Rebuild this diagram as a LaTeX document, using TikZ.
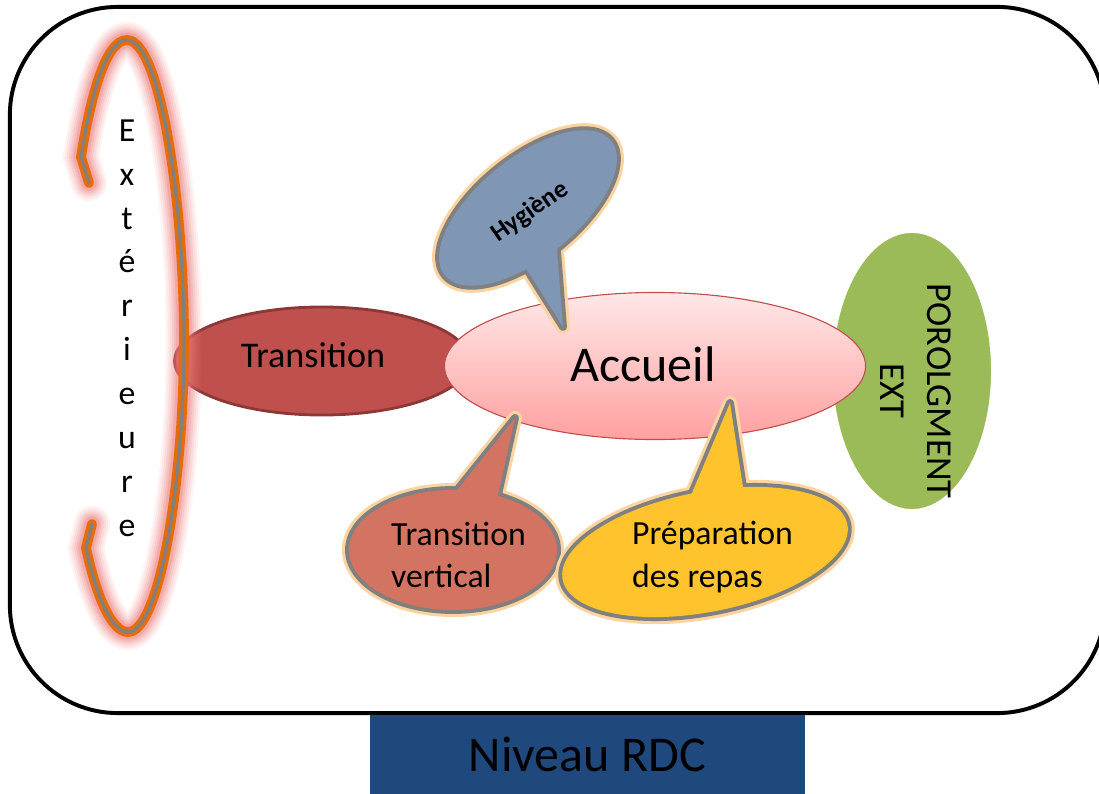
\documentclass[tikz,border=0pt]{standalone}
\usepackage{fontspec}
\setmainfont{Carlito}
\usepackage{xcolor}
\usetikzlibrary{shapes.geometric}
\definecolor{transred}{RGB}{192,80,77}
\definecolor{transdark}{RGB}{140,56,54}
\definecolor{accpinktop}{RGB}{255,232,232}
\definecolor{accpinkbot}{RGB}{255,160,160}
\definecolor{extgreen}{RGB}{155,187,89}
\definecolor{hygblue}{RGB}{127,151,181}
\definecolor{vertred}{RGB}{211,115,98}
\definecolor{repasyellow}{RGB}{255,195,46}
\definecolor{rdcblue}{RGB}{31,73,125}
\definecolor{arroworange}{RGB}{228,108,10}
\definecolor{arrowgray}{RGB}{128,128,128}
\definecolor{glowpink}{RGB}{236,120,120}
\definecolor{haloorange}{RGB}{252,212,160}
\definecolor{bubblegray}{RGB}{128,128,128}

\begin{document}
\begin{tikzpicture}[
    x=0.025cm, y=-0.025cm,
    every node/.style={inner sep=0pt, outer sep=0pt},
    bigtext/.style={font=\fontsize{35.6}{42}\selectfont},
    midtext/.style={font=\fontsize{25.7}{31}\selectfont},
    bubbletext/.style={font=\fontsize{24}{30}\selectfont, align=left},
    bubbleglow/.style={draw=haloorange, line width=10pt, line join=round},
    bubbleedge/.style={draw=bubblegray, line width=5.6pt, line join=round},
    roomellipse/.style={ellipse, draw=#1, minimum width=7.375cm, minimum height=2.7cm}
]
\useasboundingbox (0,0) rectangle (1099,794);

% Floor frame
\node[draw, line width=2.8pt, rounded corners=2.7cm, minimum width=27.375cm, minimum height=17.65cm] (plan) at (557.5,360) {};

% Rooms
\node[ellipse, draw=white, line width=4.2pt, fill=extgreen, minimum width=4.1cm, minimum height=7.05cm] (prolong) at (912,371) {};
\node[rotate=-90, align=center, font=\fontsize{26}{33}\selectfont] (prolonglabel) at (916,391) {POROLGMENT\\EXT};

\node[roomellipse=transdark, line width=2pt, fill=transred] (transition) at (322,361) {};
\node[midtext] (translabel) at (313,355) {Transition};

\node[ellipse, draw=transred, line width=0.8pt, top color=accpinktop, bottom color=accpinkbot, minimum width=10.525cm, minimum height=3.675cm] (accueil) at (655,366) {};
\node[bigtext] (acclabel) at (643,364) {Accueil};

% Callouts
\coordinate (hygc) at (528,208);
\coordinate (hygtip) at (563,327);
\path[bubbleglow, rotate around={39:(hygc)}] (hygc) ellipse [x radius=107, y radius=50];
\path[bubbleglow] (514,249) -- (hygtip) -- (555,226);
\path[bubbleedge, rotate around={39:(hygc)}] (hygc) ellipse [x radius=107, y radius=50];
\path[bubbleedge] (514,249) -- (hygtip) -- (555,226);
\fill[hygblue, rotate around={39:(hygc)}] (hygc) ellipse [x radius=107, y radius=50];
\fill[hygblue] (514,249) -- (hygtip) -- (555,226) -- cycle;
\node[rotate=35, font=\fontsize{18.5}{22}\selectfont\bfseries] (hyglabel) at (530,212) {Hygiène};

\coordinate (vertc) at (453,550);
\coordinate (verttip) at (515,418);
\path[bubbleglow] (vertc) ellipse [x radius=104, y radius=60];
\path[bubbleglow] (441,510) -- (verttip) -- (492,522);
\path[bubbleedge] (vertc) ellipse [x radius=104, y radius=60];
\path[bubbleedge] (441,510) -- (verttip) -- (492,522);
\fill[vertred] (vertc) ellipse [x radius=104, y radius=60];
\fill[vertred] (441,510) -- (verttip) -- (492,522) -- cycle;
\node[bubbletext] (vertlabel) at (458.5,555) {Transition\\vertical};

\coordinate (repasc) at (705,552);
\coordinate (repastip) at (730,403);
\path[bubbleglow, rotate around={11:(repasc)}] (repasc) ellipse [x radius=145, y radius=60];
\path[bubbleglow] (678,526) -- (repastip) -- (747,513);
\path[bubbleedge, rotate around={11:(repasc)}] (repasc) ellipse [x radius=145, y radius=60];
\path[bubbleedge] (678,526) -- (repastip) -- (747,513);
\fill[repasyellow, rotate around={11:(repasc)}] (repasc) ellipse [x radius=145, y radius=60];
\fill[repasyellow] (678,526) -- (repastip) -- (747,513) -- cycle;
\node[bubbletext] (repaslabel) at (712.5,557) {Préparation\\des repas};

% Outside arrow
\foreach \lw/\col/\op in {26pt/glowpink/0.08, 23pt/glowpink/0.1, 20pt/glowpink/0.12, 17pt/glowpink/0.15, 14pt/glowpink/0.2, 11pt/glowpink/0.3, 7pt/arroworange/1, 2.2pt/arrowgray/1}
  \draw[line width=\lw, draw=\col, opacity=\op, line cap=round, line join=miter]
    (89,183) -- (81,157) .. controls (90,100) and (105,40) .. (127,40)
    .. controls (160,40) and (184,200) .. (184,340)
    .. controls (184,480) and (160,632) .. (128,632)
    .. controls (110,632) and (95,590) .. (86,548) -- (92,524);
\node[align=center, font=\fontsize{24}{31.2}\selectfont] (extlabel) at (127,328) {E\\x\\t\\é\\r\\i\\e\\u\\r\\e};

% Level caption
\node[fill=rdcblue, minimum width=10.875cm, minimum height=2.1cm, text depth=4pt, bigtext] (niveau) at (587.5,757) {Niveau RDC};
\end{tikzpicture}
\end{document}
